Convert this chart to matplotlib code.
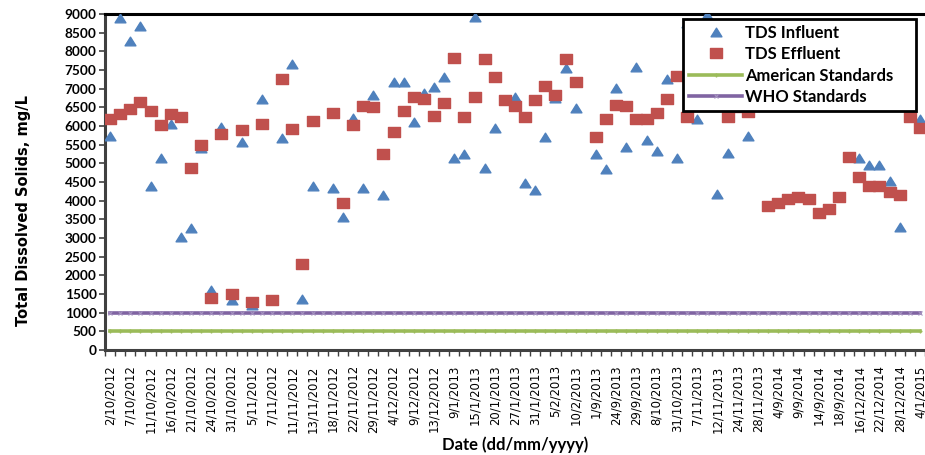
import numpy as np
import matplotlib
matplotlib.use("Agg")
import matplotlib.pyplot as plt
from matplotlib.path import Path

nan = np.nan

# ---- data -------------------------------------------------------------
n_categories = 81
tick_labels = [
    "2/10/2012", "7/10/2012", "11/10/2012", "16/10/2012", "21/10/2012",
    "24/10/2012", "31/10/2012", "5/11/2012", "7/11/2012", "11/11/2012",
    "13/11/2012", "18/11/2012", "22/11/2012", "29/11/2012", "4/12/2012",
    "9/12/2012", "13/12/2012", "9/1/2013", "15/1/2013", "20/1/2013",
    "27/1/2013", "31/1/2013", "5/2/2013", "10/2/2013", "1/9/2013",
    "24/9/2013", "29/9/2013", "8/10/2013", "31/10/2013", "7/11/2013",
    "12/11/2013", "24/11/2013", "28/11/2013", "4/9/2014", "9/9/2014",
    "14/9/2014", "18/9/2014", "16/12/2014", "22/12/2014", "28/12/2014",
    "4/1/2015",
]

tds_influent = [
    5730, 8890, 8270, 8670, 4400, 5140, 6050, 3040, 3280, 5400,
    1610, 5960, 1340, 5560, 1200, 6720, nan, 5670, 7650, 1360,
    4400, nan, 4350, 3550, 6220, 4350, 6840, 4150, 7190, 7190,
    6100, 6890, 7050, 7300, 5140, 5240, 8910, 4870, 5950, nan,
    6790, 4470, 4280, 5710, 6740, 7560, 6470, nan, 5240, 4840,
    7030, 5430, 7590, 5630, 5330, 7260, 5150, 8760, 6200, 8960,
    4180, 5270, nan, 5720, nan, nan, nan, nan, nan, nan,
    nan, nan, nan, nan, 5140, 4960, 4960, 4530, 3300, 6850,
    6200,
]

tds_effluent = [
    6190, 6310, 6450, 6630, 6400, 6030, 6310, 6250, 4870, 5480,
    1380, 5790, 1500, 5880, 1290, 6050, 1340, 7260, 5910, 2300,
    6130, nan, 6350, 3950, 6040, 6540, 6500, 5260, 5850, 6400,
    6790, 6720, 6280, 6620, 7830, 6250, 6790, 7800, 7300, 6700,
    6540, 6240, 6690, 7060, 6840, 7790, 7190, nan, 5700, 6180,
    6560, 6540, 6200, 6200, 6340, 6710, 7340, 6230, nan, nan,
    nan, 6250, 6500, 6370, nan, 3850, 3950, 4040, 4090, 4050,
    3660, 3770, 4090, 5180, 4640, 4400, 4400, 4240, 4140, 6250,
    5950,
]

american_standard = [500] * n_categories
who_standard = [1000] * n_categories

# ---- style ------------------------------------------------------------
BLUE = "#4F81BD"
RED = "#C0504D"
GREEN = "#9BBB59"
PURPLE = "#8064A2"

W, H = 925, 455
fig = plt.figure(figsize=(W / 100, H / 100), dpi=100)
ax = fig.add_axes([105 / W, (H - 350) / H, (W - 105) / W, 336 / H])

x = np.arange(n_categories)

tri = Path([(0, 1), (-1.25, -1), (1.25, -1), (0, 1)],
           [Path.MOVETO, Path.LINETO, Path.LINETO, Path.CLOSEPOLY])
rect = Path([(-1.33, -1), (1.33, -1), (1.33, 1), (-1.33, 1), (-1.33, -1)],
            [Path.MOVETO, Path.LINETO, Path.LINETO, Path.LINETO, Path.CLOSEPOLY])

ax.plot(x, american_standard, color=GREEN, lw=2.6, marker="+", ms=2.5,
        mec=GREEN, label="American Standards", zorder=2)
ax.plot(x, who_standard, color=PURPLE, lw=2.6, marker="x", ms=3,
        mec="#A592C0", mew=0.8, label="WHO Standards", zorder=2)
ax.plot(x, tds_influent, ls="none", marker=tri, ms=7.8, color=BLUE,
        mec=BLUE, label="TDS Influent", zorder=3)
ax.plot(x, tds_effluent, ls="none", marker=rect, ms=8.8, color=RED,
        mec=RED, label="TDS Effluent", zorder=4)

ax.set_xlim(-0.5, (925 - 110.1) / 10.15)
ax.set_ylim(0, 9000)

ax.set_yticks(np.arange(0, 9001, 500))
ax.tick_params(axis="y", direction="out", length=4, width=1.2,
               color="#404040", pad=2)
for t in ax.get_yticklabels():
    t.set_fontfamily("Lato")
    t.set_fontweight("bold")
    t.set_fontsize(9.8)

ax.set_xticks(np.arange(0, n_categories, 2))
ax.set_xticklabels(tick_labels, rotation=90, fontfamily="Liberation Sans Narrow",
                   fontsize=8.4, color="black")
ax.set_xticks(np.arange(-0.5, n_categories, 1), minor=True)
ax.tick_params(axis="x", which="major", length=0, pad=11)
ax.tick_params(axis="x", which="minor", direction="out", length=4,
               width=1.0, color="#404040")

for s in ("left", "bottom"):
    ax.spines[s].set_color("#404040")
    ax.spines[s].set_linewidth(2.2)
ax.spines["top"].set_color("black")
ax.spines["top"].set_linewidth(2.2)
ax.spines["right"].set_visible(False)

ax.set_ylabel("Total Dissolved Solids, mg/L", fontfamily="Liberation Sans Narrow",
              fontweight="bold", fontsize=10.5)
ax.yaxis.set_label_coords((31 - 105) / 820, (350 - 210) / 336)
ax.set_xlabel("Date (dd/mm/yyyy)", fontfamily="Lato", fontweight="bold",
              fontsize=12)
ax.xaxis.set_label_coords(0.5, (350 - 436) / 336)

handles, labels = ax.get_legend_handles_labels()
order = [2, 3, 0, 1]
leg = ax.legend([handles[i] for i in order], [labels[i] for i in order],
                loc="upper left",
                bbox_to_anchor=(683 / W, 1 - 108 / H, 233 / W, 89 / H),
                bbox_transform=fig.transFigure, borderaxespad=0,
                mode="expand",
                frameon=True, fancybox=False, framealpha=1,
                edgecolor="black", handlelength=3.2, handletextpad=0.15,
                labelspacing=0.32, borderpad=0.35,
                prop={"family": "Lato", "weight": "bold", "size": 12})
leg.get_frame().set_linewidth(2.0)
leg.set_zorder(10)

fig.savefig("out.png", dpi=100)
